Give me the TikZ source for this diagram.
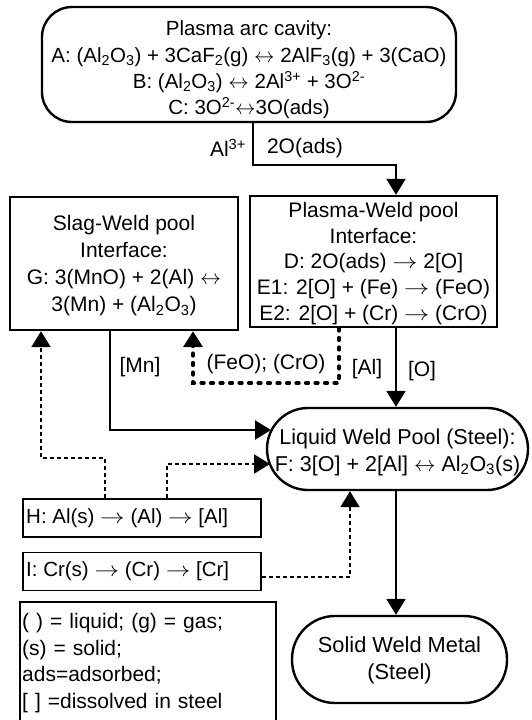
\RequirePackage{fix-cm}
\documentclass[tikz,border=0pt]{standalone}
\usepackage{graphicx}
\usepackage{fontspec}
\setmainfont{Liberation Sans}
\usetikzlibrary{arrows.meta}
\newcommand{\sbs}[1]{\textsubscript{#1}}
\newcommand{\sps}[1]{\textsuperscript{#1}}
\newcommand{\ra}{\scalebox{1.2}[1]{$\rightarrow$}}
\newcommand{\lra}{$\leftrightarrow$}
\tikzset{
  fs/.style={font=\fontsize{#1}{26.5}\selectfont},
  boxline/.style={draw, line width=2.4pt, inner sep=0pt},
  boxtxt/.style={inner sep=0pt, align=center},
  thinbox/.style={draw, line width=1.4pt, inner sep=0pt},
  lbl/.style={fs=21, inner sep=0pt},
  tip/.style={-{Triangle[length=16pt,width=19pt]}},
  conn/.style={tip, line width=2.4pt},
  dotconn/.style={tip, line width=2.2pt, dash pattern=on 4pt off 3pt},
  dashconn/.style={tip, line width=3.8pt, line cap=round, dash pattern=on 2.5pt off 7pt},
}
\begin{document}
\begin{tikzpicture}[x=1pt,y=-1pt]
\useasboundingbox (0,0) rectangle (532,720);
\fill[white] (0,0) rectangle (532,720);

% boxes
\node[boxline, rounded corners=30pt, minimum width=414pt, minimum height=115pt] (top) at (249,64.5) {};
\node[boxline, minimum width=228pt, minimum height=133pt] (slag) at (124,263.5) {};
\node[boxline, minimum width=247pt, minimum height=131pt] (plasma) at (373.5,261.5) {};
\node[boxline, rounded corners=41pt, minimum width=261pt, minimum height=82pt] (pool) at (397.5,449) {};
\node[boxline, rounded corners=43pt, minimum width=215pt, minimum height=87pt] (solid) at (399.5,659.5) {};
\node[thinbox, minimum width=238pt, minimum height=38pt] (H) at (142,518) {};
\node[thinbox, minimum width=238pt, minimum height=38pt] (I) at (142,571.5) {};

% texts
\node[boxtxt, font=\fontsize{20.5}{26.3}\selectfont] (topT) at (249,70)
  {Plasma arc cavity:\\ A: (Al\sbs{2}O\sbs{3}) + 3CaF\sbs{2}(g) \lra\ 2AlF\sbs{3}(g) + 3(CaO)\\ B: (Al\sbs{2}O\sbs{3}) \lra\ 2Al\sps{3+} + 3O\sps{2-}\\ C: 3O\sps{2-}\lra3O(ads)};
\node[boxtxt, font=\fontsize{21}{27}\selectfont] (slagT) at (124,266)
  {Slag-Weld pool\\ Interface:\\ G: 3(MnO) + 2(Al) \lra\\ 3(Mn) + (Al\sbs{2}O\sbs{3})};
\node[boxtxt, font=\fontsize{21}{25.8}\selectfont] (plasmaT) at (373.5,263.5)
  {Plasma-Weld pool\\ Interface:\\ D: 2O(ads) \ra\ 2[O]\\ E1: 2[O] + (Fe) \ra\ (FeO)\\ E2: 2[O] + (Cr) \ra\ (CrO)};
\node[boxtxt, font=\fontsize{21.5}{27}\selectfont] (poolT) at (397.5,452)
  {Liquid Weld Pool (Steel):\\ F: 3[O] + 2[Al] \lra\ Al\sbs{2}O\sbs{3}(s)};
\node[boxtxt, font=\fontsize{21.8}{27}\selectfont] (solidT) at (399.5,660)
  {Solid Weld Metal\\ (Steel)};
\node[fs=20.5, inner sep=0pt, anchor=west] (HT) at (26,518) {H: Al(s) \ra\ (Al) \ra\ [Al]};
\node[fs=20.5, inner sep=0pt, anchor=west] (IT) at (26,571.5) {I: Cr(s) \ra\ (Cr) \ra\ [Cr]};

\node[anchor=north west, inner sep=0pt, text width=250pt, align=left, font=\fontsize{21}{26.7}\selectfont] (legend) at (22,613)
  {( ) = liquid; (g) = gas;\\ (s) = solid;\\ ads=adsorbed;\\ {[} ] =dissolved in steel};
\draw[line width=1.4pt] (20,725) -- (20,602) -- (276,602) -- (276,725);

% labels
\node[lbl] (lAl) at (228,148) {Al\sps{3+}};
\node[lbl] (lO2) at (305,148) {2O(ads)};
\node[lbl] (lMn) at (140,367) {[Mn]};
\node[lbl] (lFe) at (266,364) {(FeO); (CrO)};
\node[lbl] (lAl2) at (367,369) {[Al]};
\node[lbl] (lO) at (422,371) {[O]};

% connectors
\coordinate (kA) at (253,165);
\coordinate (xo) at (396,0);
\draw[conn] (top.south -| kA) -- (kA) -| (plasma.north -| xo);
\draw[conn] (plasma.south -| xo) -- (pool.north -| xo);
\draw[conn] (pool.south -| xo) -- (solid.north -| xo);

\coordinate (kMn) at (110,430);
\coordinate (eMn) at (271,430);
\draw[conn] (slag.south -| kMn) |- (eMn);

\coordinate (kH1) at (105,458);
\coordinate (xL) at (41,0);
\draw[dotconn] (H.north -| kH1) -- (kH1) -| (slag.south -| xL);

\coordinate (kH2) at (167,464);
\coordinate (eH2) at (270,464);
\draw[dotconn] (H.north -| kH2) |- (eH2);

\coordinate (kCr) at (350,577);
\draw[dotconn] (I.east |- kCr) -| (pool.south -| kCr);

\coordinate (kF1) at (339,383);
\coordinate (kF2) at (193,383);
\draw[dashconn] (plasma.south -| kF1) -- (kF1) -- (kF2) -- (slag.south -| kF2);
\end{tikzpicture}
\end{document}
